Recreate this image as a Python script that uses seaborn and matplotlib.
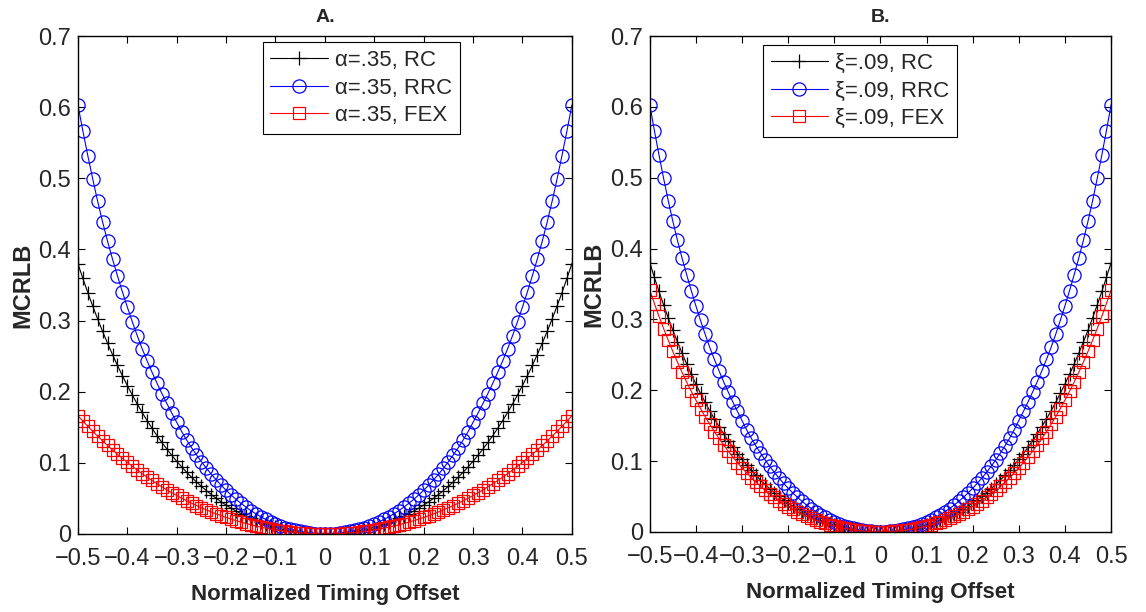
import numpy as np
import matplotlib
matplotlib.use("Agg")
import matplotlib.pyplot as plt
from matplotlib.ticker import FixedLocator, FuncFormatter
import seaborn as sns

# ---------------- data ----------------
offset = np.round(np.linspace(-0.5, 0.5, 101), 2)   # normalized timing offset grid

# RC and RRC curves are the same in both panels
mcrlb_rc = [
    0.3800, 0.3592, 0.3394, 0.3203, 0.3021, 0.2847, 0.2681, 0.2522, 0.2370, 0.2225,
    0.2086, 0.1955, 0.1829, 0.1709, 0.1595, 0.1487, 0.1384, 0.1287, 0.1194, 0.1106,
    0.1022, 0.0943, 0.0869, 0.0798, 0.0732, 0.0669, 0.0610, 0.0554, 0.0501, 0.0452,
    0.0406, 0.0363, 0.0323, 0.0286, 0.0251, 0.0219, 0.0190, 0.0162, 0.0137, 0.0115,
    0.0094, 0.0076, 0.0060, 0.0046, 0.0033, 0.0023, 0.0015, 0.0008, 0.0004, 0.0001,
    0.0000,
    0.0001, 0.0004, 0.0008, 0.0015, 0.0023, 0.0033, 0.0046, 0.0060, 0.0076, 0.0094,
    0.0115, 0.0137, 0.0162, 0.0190, 0.0219, 0.0251, 0.0286, 0.0323, 0.0363, 0.0406,
    0.0452, 0.0501, 0.0554, 0.0610, 0.0669, 0.0732, 0.0798, 0.0869, 0.0943, 0.1022,
    0.1106, 0.1194, 0.1287, 0.1384, 0.1487, 0.1595, 0.1709, 0.1829, 0.1955, 0.2086,
    0.2225, 0.2370, 0.2522, 0.2681, 0.2847, 0.3021, 0.3203, 0.3394, 0.3592, 0.3800,
]

mcrlb_rrc = [
    0.6030, 0.5665, 0.5320, 0.4990, 0.4675, 0.4385, 0.4115, 0.3865, 0.3630, 0.3405,
    0.3190, 0.2985, 0.2790, 0.2605, 0.2435, 0.2275, 0.2120, 0.1975, 0.1835, 0.1700,
    0.1570, 0.1440, 0.1322, 0.1214, 0.1112, 0.1016, 0.0925, 0.0840, 0.0760, 0.0685,
    0.0615, 0.0549, 0.0488, 0.0431, 0.0378, 0.0329, 0.0285, 0.0243, 0.0206, 0.0172,
    0.0141, 0.0114, 0.0089, 0.0068, 0.0050, 0.0035, 0.0022, 0.0012, 0.0005, 0.0001,
    0.0000,
    0.0001, 0.0005, 0.0012, 0.0022, 0.0035, 0.0050, 0.0068, 0.0089, 0.0114, 0.0141,
    0.0172, 0.0206, 0.0243, 0.0285, 0.0329, 0.0378, 0.0431, 0.0488, 0.0549, 0.0615,
    0.0685, 0.0760, 0.0840, 0.0925, 0.1016, 0.1112, 0.1214, 0.1322, 0.1440, 0.1570,
    0.1700, 0.1835, 0.1975, 0.2120, 0.2275, 0.2435, 0.2605, 0.2790, 0.2985, 0.3190,
    0.3405, 0.3630, 0.3865, 0.4115, 0.4385, 0.4675, 0.4990, 0.5320, 0.5665, 0.6030,
]

mcrlb_fex_alpha = [
    0.1663, 0.1587, 0.1514, 0.1443, 0.1375, 0.1308, 0.1244, 0.1181, 0.1121, 0.1063,
    0.1006, 0.0952, 0.0899, 0.0848, 0.0799, 0.0752, 0.0707, 0.0663, 0.0620, 0.0580,
    0.0541, 0.0503, 0.0468, 0.0433, 0.0400, 0.0369, 0.0339, 0.0310, 0.0283, 0.0257,
    0.0232, 0.0209, 0.0187, 0.0167, 0.0147, 0.0129, 0.0112, 0.0097, 0.0082, 0.0069,
    0.0057, 0.0046, 0.0036, 0.0028, 0.0020, 0.0014, 0.0009, 0.0005, 0.0002, 0.0001,
    0.0000,
    0.0001, 0.0002, 0.0005, 0.0009, 0.0014, 0.0020, 0.0028, 0.0036, 0.0046, 0.0057,
    0.0069, 0.0082, 0.0097, 0.0112, 0.0129, 0.0147, 0.0167, 0.0187, 0.0209, 0.0232,
    0.0257, 0.0283, 0.0310, 0.0339, 0.0369, 0.0400, 0.0433, 0.0468, 0.0503, 0.0541,
    0.0580, 0.0620, 0.0663, 0.0707, 0.0752, 0.0799, 0.0848, 0.0899, 0.0952, 0.1006,
    0.1063, 0.1121, 0.1181, 0.1244, 0.1308, 0.1375, 0.1443, 0.1514, 0.1587, 0.1663,
]

mcrlb_fex_xi = [
    0.3413, 0.3224, 0.3043, 0.2870, 0.2705, 0.2547, 0.2396, 0.2252, 0.2114, 0.1983,
    0.1859, 0.1740, 0.1626, 0.1519, 0.1416, 0.1319, 0.1227, 0.1139, 0.1056, 0.0978,
    0.0903, 0.0833, 0.0766, 0.0703, 0.0644, 0.0588, 0.0536, 0.0486, 0.0440, 0.0397,
    0.0356, 0.0318, 0.0283, 0.0250, 0.0220, 0.0191, 0.0165, 0.0142, 0.0120, 0.0100,
    0.0082, 0.0066, 0.0052, 0.0040, 0.0029, 0.0020, 0.0013, 0.0007, 0.0003, 0.0001,
    0.0000,
    0.0001, 0.0003, 0.0007, 0.0013, 0.0020, 0.0029, 0.0040, 0.0052, 0.0066, 0.0082,
    0.0100, 0.0120, 0.0142, 0.0165, 0.0191, 0.0220, 0.0250, 0.0283, 0.0318, 0.0356,
    0.0397, 0.0440, 0.0486, 0.0536, 0.0588, 0.0644, 0.0703, 0.0766, 0.0833, 0.0903,
    0.0978, 0.1056, 0.1139, 0.1227, 0.1319, 0.1416, 0.1519, 0.1626, 0.1740, 0.1859,
    0.1983, 0.2114, 0.2252, 0.2396, 0.2547, 0.2705, 0.2870, 0.3043, 0.3224, 0.3413,
]

labels_a = ["α=.35, RC", "α=.35, RRC", "α=.35, FEX"]
labels_b = ["ξ=.09, RC", "ξ=.09, RRC", "ξ=.09, FEX"]
panel_titles = ["A.", "B."]
x_ticks = [-0.5, -0.4, -0.3, -0.2, -0.1, 0, 0.1, 0.2, 0.3, 0.4, 0.5]
y_ticks = [0, 0.1, 0.2, 0.3, 0.4, 0.5, 0.6, 0.7]

# ---------------- styling ----------------
sns.set_theme(style="ticks")
plt.rcParams["font.family"] = ["Liberation Sans", "DejaVu Sans"]
plt.rcParams["axes.unicode_minus"] = True

fig = plt.figure(figsize=(11.46, 6.12), dpi=100)
axA = fig.add_axes([0.068, 0.1275, 0.431, 0.8135])
axB = fig.add_axes([0.567, 0.131, 0.4025, 0.810])

styles = [("black", "+", 10), ("blue", "o", 9.5), ("red", "s", 8.5)]

def fmt(v, pos):
    s = "%g" % round(v, 2)
    return s.replace("-", "\u2212")

panels = [
    (axA, [mcrlb_rc, mcrlb_rrc, mcrlb_fex_alpha], labels_a, panel_titles[0], (0.374, 0.988)),
    (axB, [mcrlb_rc, mcrlb_rrc, mcrlb_fex_xi], labels_b, panel_titles[1], (0.245, 0.982)),
]

for ax, series, labels, title, anchor in panels:
    for vals, lab, (col, mk, ms) in zip(series, labels, styles):
        sns.lineplot(x=offset, y=vals, ax=ax, color=col, marker=mk, markersize=ms,
                     markerfacecolor="none", markeredgecolor=col, markeredgewidth=0.9,
                     linewidth=0.8, label=lab, estimator=None, sort=False)
    ax.set_xlim(-0.5, 0.5)
    ax.set_ylim(0, 0.7)
    ax.xaxis.set_major_locator(FixedLocator(x_ticks))
    ax.yaxis.set_major_locator(FixedLocator(y_ticks))
    ax.xaxis.set_major_formatter(FuncFormatter(fmt))
    ax.yaxis.set_major_formatter(FuncFormatter(fmt))
    ax.tick_params(direction="in", top=True, right=True, labelsize=17, length=5,
                   width=0.8, color="black", pad=5)
    ax.tick_params(axis="x", pad=10)
    for sp in ax.spines.values():
        sp.set_visible(True)
        sp.set_color("black")
        sp.set_linewidth(1.0)
    ax.set_title(title, fontweight="bold", fontsize=14, pad=10)
    ax.set_xlabel("Normalized Timing Offset", fontweight="bold", fontsize=16, labelpad=10)
    ax.set_ylabel("MCRLB", fontweight="bold", fontsize=17, labelpad=3)
    leg = ax.legend(loc="upper left", bbox_to_anchor=anchor, fontsize=16, frameon=True,
                    fancybox=False, framealpha=1, edgecolor="black", numpoints=1,
                    handlelength=2.6, borderpad=0.35, labelspacing=0.3,
                    handletextpad=0.3, borderaxespad=0)
    leg.get_frame().set_linewidth(0.8)

fig.savefig("out.png", dpi=100)
